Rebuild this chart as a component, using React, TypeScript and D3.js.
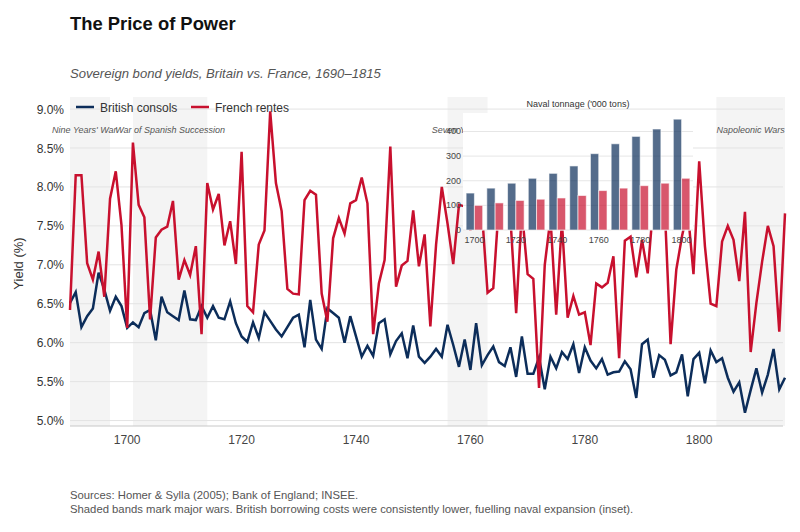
import { useRef, useEffect } from "react"
import * as d3 from "d3"

const startYear = 1690
const endYear = 1815
const years = d3.range(startYear, endYear + 1)

// annual yields (%), 1690-1815
const britishConsols = [
  6.51, 6.65, 6.2, 6.34, 6.44, 6.9, 6.68, 6.41, 6.59, 6.47,
  6.19, 6.26, 6.2, 6.38, 6.42, 6.03, 6.59, 6.39, 6.34, 6.29,
  6.67, 6.3, 6.29, 6.47, 6.32, 6.47, 6.32, 6.3, 6.53, 6.25,
  6.08, 6.01, 6.26, 6.06, 6.39, 6.28, 6.17, 6.08, 6.2, 6.32,
  6.36, 5.94, 6.55, 6.04, 5.92, 6.44, 6.38, 6.32, 6.0, 6.34,
  6.08, 5.82, 5.96, 5.83, 6.25, 6.3, 5.85, 6.02, 6.12, 5.8,
  6.22, 5.82, 5.74, 5.82, 5.92, 5.82, 6.23, 5.97, 5.69, 6.04,
  5.65, 6.25, 5.71, 5.84, 5.95, 5.75, 5.7, 5.94, 5.56, 6.08,
  5.6, 5.6, 5.81, 5.4, 5.82, 5.67, 5.88, 5.79, 5.98, 5.61,
  5.94, 5.77, 5.67, 5.79, 5.59, 5.62, 5.63, 5.76, 5.66, 5.29,
  5.98, 6.04, 5.55, 5.84, 5.78, 5.58, 5.62, 5.85, 5.31, 5.79,
  5.87, 5.48, 5.9, 5.75, 5.8, 5.55, 5.37, 5.49, 5.1, 5.39,
  5.67, 5.36, 5.59, 5.92, 5.4, 5.55,
]

const frenchRentes = [
  6.42, 8.15, 8.15, 7.02, 6.81, 7.17, 6.59, 7.85, 8.2, 7.51,
  6.19, 8.57, 7.77, 7.61, 6.3, 7.35, 7.45, 7.49, 7.82, 6.81,
  7.06, 6.87, 7.24, 6.11, 8.05, 7.71, 7.91, 7.25, 7.56, 7.01,
  8.45, 6.47, 6.39, 7.26, 7.44, 8.97, 8.05, 7.69, 6.69, 6.63,
  6.62, 7.83, 7.95, 7.9, 6.63, 6.27, 7.34, 7.6, 7.4, 7.79,
  7.83, 8.12, 7.79, 6.11, 6.76, 7.06, 8.52, 6.72, 6.99, 7.05,
  7.7, 6.98, 7.39, 6.21, 7.26, 8.0, 7.53, 7.01, 7.77, 7.75,
  7.44, 7.9, 7.7, 6.64, 6.7, 7.8, 8.0, 7.6, 6.38, 7.7,
  6.88, 6.82, 5.42, 7.0, 7.6, 6.36, 7.55, 6.32, 6.6, 6.36,
  6.39, 5.97, 6.76, 6.71, 6.77, 7.11, 5.8, 7.31, 7.36, 6.84,
  7.32, 6.89, 7.8, 8.1, 7.7, 5.98, 6.94, 7.37, 7.7, 6.88,
  8.33, 7.24, 6.5, 6.47, 7.3, 7.5, 7.32, 6.79, 7.68, 5.88,
  6.51, 7.04, 7.5, 7.24, 6.14, 7.66,
]

const wars = [
  { name: "Nine Years' War", start: 1688, end: 1697 },
  { name: "War of Spanish Succession", start: 1701, end: 1714 },
  { name: "Seven Years' War", start: 1756, end: 1763 },
  { name: "Napoleonic Wars", start: 1803, end: 1815 },
]

const yTicks = [5.0, 5.5, 6.0, 6.5, 7.0, 7.5, 8.0, 8.5, 9.0]
const xTicks = [1700, 1720, 1740, 1760, 1780, 1800]

// inset: naval tonnage ('000 tons) by decade
const tonnageDecades = ["1700", "1710", "1720", "1730", "1740", "1750", "1760", "1770", "1780", "1790", "1800"]
const britishTonnage = [150, 170, 190, 210, 230, 260, 310, 350, 380, 410, 450]
const frenchTonnage = [100, 110, 120, 125, 130, 140, 160, 170, 180, 190, 210]
const tonnageTicks = [0, 100, 200, 300, 400]

const BLUE = "#0c2d5a"
const RED = "#c8102e"

export default function App() {
  const svgRef = useRef<SVGSVGElement | null>(null)

  useEffect(() => {
    if (!svgRef.current) return
    const svg = d3.select(svgRef.current)
    svg.selectAll("*").remove()

    const left = 70
    const right = 785
    const top = 97
    const bottom = 426

    const x = d3.scaleLinear().domain([startYear, endYear]).range([left, right])
    const y = d3.scaleLinear().domain([4.93, 9.155]).range([bottom, top])

    // Title + subtitle
    svg.append("text").attr("x", 70).attr("y", 30).text("The Price of Power")
      .attr("font-size", 18.4).attr("font-weight", "bold").attr("fill", "#111")
    svg.append("text").attr("x", 70).attr("y", 78).text("Sovereign bond yields, Britain vs. France, 1690–1815")
      .attr("font-size", 13.1).attr("font-style", "italic").attr("fill", "#555")

    // War shading
    svg.append("g").selectAll("rect").data(wars).enter().append("rect")
      .attr("x", (d) => x(Math.max(d.start, startYear)))
      .attr("width", (d) => x(Math.min(d.end, endYear)) - x(Math.max(d.start, startYear)))
      .attr("y", top).attr("height", bottom - top)
      .attr("fill", "#f4f4f4")

    // Gridlines
    svg.append("g").selectAll("line").data(yTicks).enter().append("line")
      .attr("x1", left).attr("x2", right - 2)
      .attr("y1", (d) => y(d)).attr("y2", (d) => y(d))
      .attr("stroke", "#e3e3e3").attr("stroke-width", 1)

    // y labels
    svg.append("g").selectAll("text").data(yTicks).enter().append("text")
      .attr("x", 64).attr("y", (d) => y(d) + 4.5)
      .attr("text-anchor", "end").attr("font-size", 12).attr("fill", "#333")
      .text((d) => d.toFixed(1) + "%")

    svg.append("text")
      .attr("transform", `translate(23,${(top + bottom) / 2 + 2}) rotate(-90)`)
      .attr("text-anchor", "middle").attr("font-size", 13).attr("fill", "#333")
      .text("Yield (%)")

    // x axis
    svg.append("line").attr("x1", left).attr("x2", right - 2).attr("y1", bottom).attr("y2", bottom)
      .attr("stroke", "#c8c8c8")
    svg.append("g").selectAll("text").data(xTicks).enter().append("text")
      .attr("x", (d) => x(d)).attr("y", bottom + 18)
      .attr("text-anchor", "middle").attr("font-size", 12).attr("fill", "#444")
      .text((d) => String(d))

    // War labels
    svg.append("g").selectAll("text").data(wars).enter().append("text")
      .attr("x", (d) => x((d.start + d.end) / 2)).attr("y", 132.5)
      .attr("text-anchor", "middle").attr("font-size", 9).attr("font-style", "italic").attr("fill", "#555")
      .text((d) => d.name)

    // Lines
    const line = d3.line<number>()
      .x((_, i) => x(years[i]))
      .y((d) => y(d))

    svg.append("path").datum(britishConsols)
      .attr("fill", "none").attr("stroke", BLUE).attr("stroke-width", 2.5).attr("d", line)
    svg.append("path").datum(frenchRentes)
      .attr("fill", "none").attr("stroke", RED).attr("stroke-width", 2.5).attr("d", line)

    // Inset
    const inset = { left: 463, right: 693, top: 113, bottom: 230 }
    const ix = d3.scaleBand().domain(tonnageDecades).range([inset.left, inset.right])
      .paddingInner(0.2).paddingOuter(0.15)
    const isub = d3.scaleBand().domain(["GB", "FR"]).range([0, ix.bandwidth()])
    const iy = d3.scaleLinear().domain([0, 475]).range([inset.bottom, inset.top])

    const g = svg.append("g")
    g.append("rect").attr("x", inset.left).attr("y", inset.top)
      .attr("width", inset.right - inset.left).attr("height", inset.bottom - inset.top)
      .attr("fill", "white")
    g.append("text").attr("x", (inset.left + inset.right) / 2).attr("y", 107)
      .attr("text-anchor", "middle").attr("font-size", 9).attr("fill", "#333")
      .text("Naval tonnage ('000 tons)")
    g.selectAll(".igrid").data(tonnageTicks).enter().append("line")
      .attr("x1", inset.left).attr("x2", inset.right)
      .attr("y1", (d) => iy(d)).attr("y2", (d) => iy(d))
      .attr("stroke", "#e6e6e6")
    g.selectAll(".ilab").data(tonnageTicks).enter().append("text")
      .attr("x", 461).attr("y", (d) => iy(d) + 3)
      .attr("text-anchor", "end").attr("font-size", 9).attr("fill", "#444")
      .text((d) => String(d))

    const bars = [
      { key: "GB", values: britishTonnage, color: BLUE },
      { key: "FR", values: frenchTonnage, color: RED },
    ]
    bars.forEach((s) => {
      g.append("g").selectAll("rect").data(s.values).enter().append("rect")
        .attr("x", (_, i) => (ix(tonnageDecades[i]) as number) + (isub(s.key) as number))
        .attr("width", isub.bandwidth())
        .attr("y", (d) => iy(d))
        .attr("height", (d) => iy(0) - iy(d))
        .attr("fill", s.color).attr("fill-opacity", 0.7)
        .attr("stroke", "#fff").attr("stroke-opacity", 0.6).attr("stroke-width", 1)
    })

    g.selectAll(".ixlab").data(tonnageDecades.filter((_, i) => i % 2 === 0)).enter().append("text")
      .attr("x", (d) => (ix(d) as number) + ix.bandwidth() / 2).attr("y", 243)
      .attr("text-anchor", "middle").attr("font-size", 9).attr("fill", "#444")
      .text((d) => d)

    // Legend
    const legend = [
      { label: "British consols", color: BLUE, x: 76 },
      { label: "French rentes", color: RED, x: 191 },
    ]
    const lg = svg.append("g").selectAll("g").data(legend).enter().append("g")
    lg.append("line").attr("x1", (d) => d.x).attr("x2", (d) => d.x + 18)
      .attr("y1", 107).attr("y2", 107).attr("stroke", (d) => d.color).attr("stroke-width", 2.5)
    lg.append("text").attr("x", (d) => d.x + 24).attr("y", 111.5)
      .attr("font-size", 12).attr("fill", "#333").text((d) => d.label)

    // Footer
    svg.append("text").attr("x", 70).attr("y", 499).attr("font-size", 11.3).attr("fill", "#555")
      .text("Sources: Homer & Sylla (2005); Bank of England; INSEE.")
    svg.append("text").attr("x", 70).attr("y", 513).attr("font-size", 11.3).attr("fill", "#555")
      .text("Shaded bands mark major wars. British borrowing costs were consistently lower, fuelling naval expansion (inset).")
  }, [])

  return (
    <svg
      ref={svgRef}
      width={800}
      height={532}
      style={{ position: "absolute", left: 0, top: 0, background: "white", fontFamily: "'Liberation Sans', Arial, sans-serif" }}
    ></svg>
  )
}
